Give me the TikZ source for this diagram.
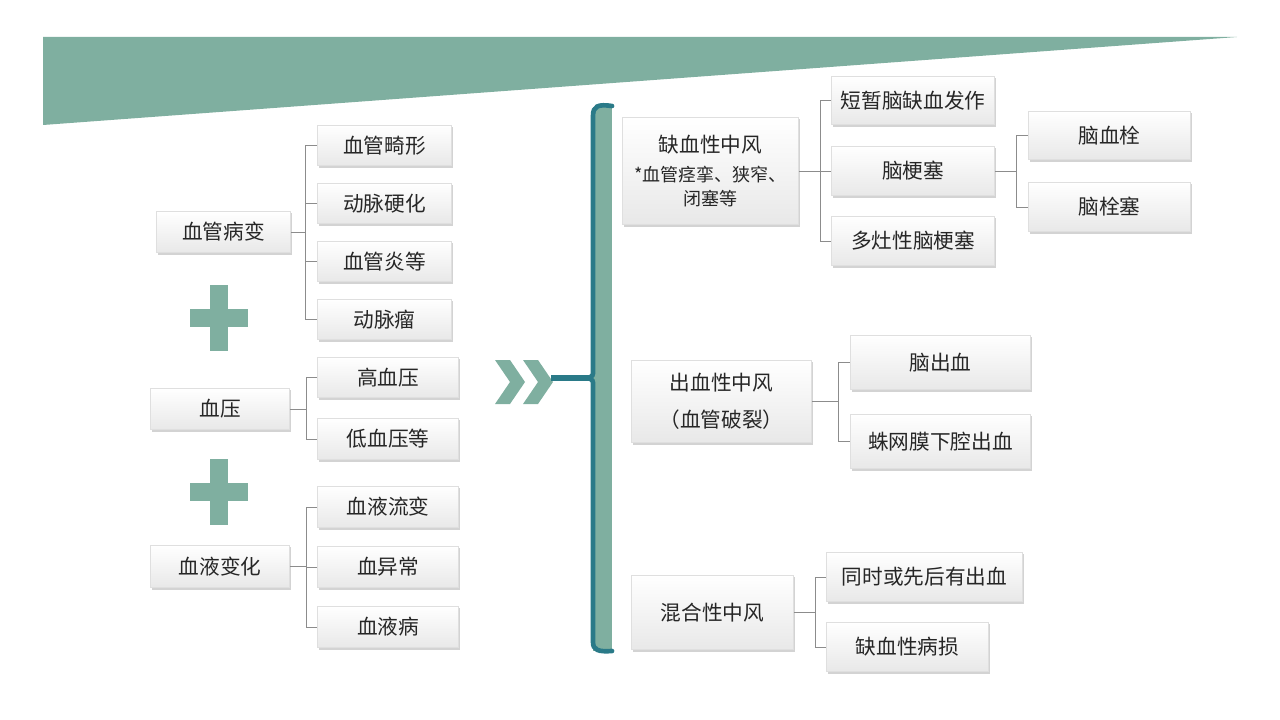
\documentclass[tikz,border=0pt]{standalone}
\usepackage{fontspec}
\setmainfont{Noto Sans CJK SC}
\usetikzlibrary{shadows}
\definecolor{sage}{HTML}{7FAFA0}
\definecolor{tealdk}{HTML}{2A7A88}
\definecolor{lnk}{HTML}{8C8C8C}
\tikzset{
  bx/.style={draw=gray!25, top color=white, bottom color=gray!18, drop shadow={opacity=0.35,shadow xshift=1.2pt,shadow yshift=-1.5pt}, inner sep=0pt, font=\fontsize{15.5pt}{18pt}\selectfont, align=center, text=black!85},
  ln/.style={draw=lnk, line width=0.5pt},
}
\newcommand{\bxat}[6]{\node[bx, minimum width=#3*0.75pt-0.5pt, minimum height=#4*0.75pt-0.5pt] (#5) at (#1,#2) {#6};}
\newcommand{\smallf}{\fontsize{13.5pt}{15pt}\selectfont}
\begin{document}
\begin{tikzpicture}[x=0.75pt,y=-0.75pt]
\useasboundingbox (0,0) rectangle (1280,720);
\fill[sage] (43,37) -- (1237,37) -- (43,125) -- cycle;
% left
\bxat{223.5}{232}{135}{42}{a}{血管病变}
\bxat{384.5}{145.5}{135}{41}{a1}{血管畸形}
\bxat{384.5}{203.5}{135}{41}{a2}{动脉硬化}
\bxat{384.5}{261.5}{135}{41}{a3}{血管炎等}
\bxat{384.5}{319.5}{135}{41}{a4}{动脉瘤}
\coordinate (aj) at (305,232);
\draw[ln] (a.east) -- (aj);
\draw[ln] (305,145.5) -- (305,319.5);
\foreach \n in {a1,a2,a3,a4}{\draw[ln] (305,0 |- \n.west) -- (\n.west);}
\foreach \y in {318,492}{
 \fill[sage] (190,\y-9) rectangle (248,\y+9);
 \fill[sage] (210,\y-33) rectangle (228,\y+33);
}
\bxat{220}{409}{140}{42}{b}{血压}
\bxat{388}{377.5}{142}{41}{b1}{高血压}
\bxat{388}{439}{142}{42}{b2}{低血压等}
\draw[ln] (b.east) -- (306,409);
\draw[ln] (306,377.5) -- (306,439);
\foreach \n in {b1,b2}{\draw[ln] (306,0 |- \n.west) -- (\n.west);}
\bxat{220}{566.5}{140}{43}{c}{血液变化}
\bxat{388}{507}{142}{42}{c1}{血液流变}
\bxat{388}{567}{142}{42}{c2}{血异常}
\bxat{388}{627}{142}{42}{c3}{血液病}
\draw[ln] (c.east) -- (306,566.5);
\draw[ln] (306,507) -- (306,627);
\foreach \n in {c1,c2,c3}{\draw[ln] (306,0 |- \n.west) -- (\n.west);}
% chevrons
\foreach \dx in {0,28}{
 \fill[sage] (495+\dx,360) -- (510+\dx,360) -- (525+\dx,382) -- (510+\dx,404) -- (495+\dx,404) -- (510+\dx,382) -- cycle;
}
\draw[tealdk, line width=4pt] (551,378) -- (590,378);
% bracket
\fill[sage] (593,107) rectangle (612,651);
\draw[tealdk, line width=3.5pt, line cap=round] (612,106) .. controls (598,104) and (593,106) .. (593,116) -- (593,370) .. controls (593,376) .. (588,378) .. controls (593,380) .. (593,386) -- (593,642) .. controls (593,650) and (598,652) .. (612,651);
% right
\bxat{710.5}{171}{177}{108}{d}{缺血性中风\\[4pt]\smallf *血管痉挛、狭窄、\\\smallf 闭塞等}
\bxat{913}{100.5}{164}{49}{d1}{短暂脑缺血发作}
\bxat{913}{171}{164}{50}{d2}{脑梗塞}
\bxat{913}{241}{164}{50}{d3}{多灶性脑梗塞}
\draw[ln] (d.east) -- (820,171);
\draw[ln] (820,100.5) -- (820,241);
\foreach \n in {d1,d2,d3}{\draw[ln] (820,0 |- \n.west) -- (\n.west);}
\bxat{1109.5}{135.5}{163}{49}{e1}{脑血栓}
\bxat{1109.5}{207}{163}{50}{e2}{脑栓塞}
\draw[ln] (d2.east) -- (1016,171);
\draw[ln] (1016,135.5) -- (1016,207);
\foreach \n in {e1,e2}{\draw[ln] (1016,0 |- \n.west) -- (\n.west);}
\bxat{721.5}{401.5}{181}{83}{f}{出血性中风\\[10pt]（血管破裂）}
\bxat{940.5}{362.5}{181}{55}{f1}{脑出血}
\bxat{940.5}{441.5}{181}{55}{f2}{蛛网膜下腔出血}
\draw[ln] (f.east) -- (838,401.5);
\draw[ln] (838,362.5) -- (838,441.5);
\foreach \n in {f1,f2}{\draw[ln] (838,0 |- \n.west) -- (\n.west);}
\bxat{712.5}{612.5}{163}{75}{g}{混合性中风}
\bxat{924.5}{577}{197}{50}{g1}{同时或先后有出血}
\bxat{907.5}{647}{163}{50}{g2}{缺血性病损}
\draw[ln] (g.east) -- (815,612.5);
\draw[ln] (815,577) -- (815,647);
\foreach \n in {g1,g2}{\draw[ln] (815,0 |- \n.west) -- (\n.west);}
\end{tikzpicture}
\end{document}
